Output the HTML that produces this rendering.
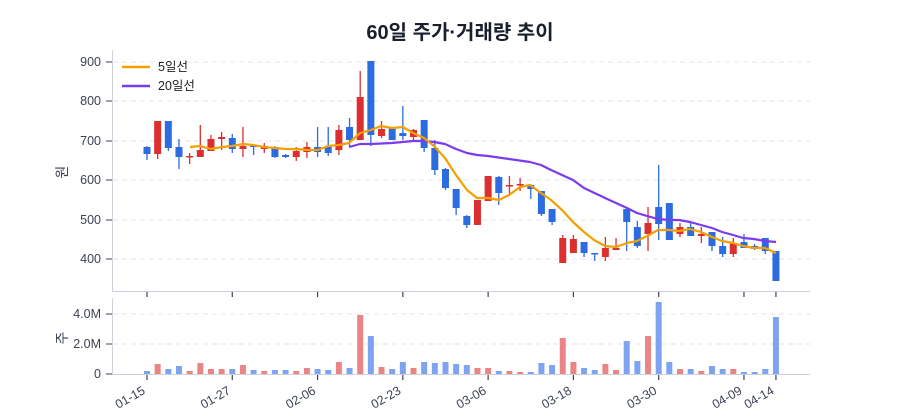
<!DOCTYPE html>
<html><head><meta charset="utf-8"><style>
html,body{margin:0;padding:0;background:#fff;}
svg{display:block;font-family:"Liberation Sans","Noto Sans CJK KR",sans-serif;}
</style></head><body>
<svg id="c" width="900" height="420" viewBox="0 0 900 420" xmlns="http://www.w3.org/2000/svg">
<text x="460" y="39" text-anchor="middle" font-size="20" font-weight="bold" fill="#1a1f2c" font-family="'Liberation Sans','Noto Sans CJK KR',sans-serif">60일 주가·거래량 추이</text>
<g stroke="#e3e6ea" stroke-dasharray="5,4" stroke-width="1">
<line x1="113" y1="62" x2="810" y2="62"/><line x1="113" y1="101" x2="810" y2="101"/>
<line x1="113" y1="141" x2="810" y2="141"/><line x1="113" y1="180" x2="810" y2="180"/>
<line x1="113" y1="220" x2="810" y2="220"/><line x1="113" y1="259" x2="810" y2="259"/>
<line x1="113" y1="314" x2="810" y2="314"/><line x1="113" y1="344" x2="810" y2="344"/>
</g>
<g stroke="#ccd1da" stroke-width="1">
<line x1="112.5" y1="50" x2="112.5" y2="291"/><line x1="112" y1="291.5" x2="810" y2="291.5"/>
<line x1="112.5" y1="298" x2="112.5" y2="375"/><line x1="112" y1="374.5" x2="810" y2="374.5"/>
</g>
<g font-size="12.5" fill="#3b4252" text-anchor="end">
<text x="101" y="66">900</text><text x="101" y="105">800</text><text x="101" y="145">700</text>
<text x="101" y="184">600</text><text x="101" y="224">500</text><text x="101" y="263">400</text>
<text x="101" y="318">4.0M</text><text x="101" y="348">2.0M</text><text x="101" y="378">0</text>
</g>
<g stroke="#3b4252" stroke-width="1">
<line x1="106" y1="62" x2="112" y2="62"/><line x1="106" y1="101" x2="112" y2="101"/><line x1="106" y1="141" x2="112" y2="141"/>
<line x1="106" y1="180" x2="112" y2="180"/><line x1="106" y1="220" x2="112" y2="220"/><line x1="106" y1="259" x2="112" y2="259"/>
<line x1="106" y1="314" x2="112" y2="314"/><line x1="106" y1="344" x2="112" y2="344"/><line x1="106" y1="374" x2="112" y2="374"/>
</g>
<text transform="translate(67,172) rotate(-90)" font-size="14" fill="#3b4252" text-anchor="middle">원</text>
<text transform="translate(67,338) rotate(-90)" font-size="14" fill="#3b4252" text-anchor="middle">주</text>
<g id="ticks" stroke="#3b4252" stroke-width="1.2"></g>
<g id="xl" font-size="12.5" fill="#3b4252"></g>
<g id="vol"></g>
<g id="cand"></g>
<polyline fill="none" stroke="#7c3aed" stroke-width="2.2" stroke-linejoin="round" points="349,147 360,144 371,144 392,143 413,141 424,141 434,142 445,144 456,149 467,153 477,155 488,156 509,159 530,162 541,165 551,170 562,175 573,180 584,188 605,198 627,208 637,213 647,216 658,219 669,220 679,220 690,222 701,225 712,228 722,232 733,235 743,238 754,239 765,241 776,242"/>
<polyline fill="none" stroke="#f59f00" stroke-width="2.2" stroke-linejoin="round" points="190,147 200,146 211,149 222,147 232,146 243,144 253,145 264,147 275,148 286,149 297,149 307,150 318,150 328,146 339,145 349,143 360,133 371,130 381,126 392,128 403,127 413,133 424,138 434,146 445,158 456,175 467,190 477,198 488,198 499,200 509,195 520,187 530,185 541,193 551,200 562,210 573,222 584,232 594,240 605,246 616,247 627,243 637,241 647,236 658,230 669,230 679,231 690,229 701,232 712,237 722,241 733,243 743,246 754,248 765,248 776,253"/>
<line x1="122" y1="67" x2="150" y2="67" stroke="#f59f00" stroke-width="2.5"/>
<text x="158" y="71" font-size="12.5" fill="#222">5일선</text>
<line x1="122" y1="86" x2="150" y2="86" stroke="#7c3aed" stroke-width="2.5"/>
<text x="158" y="90" font-size="12.5" fill="#222">20일선</text>
</svg>
<script>
var C=[[1,147,154,146,160],[0,121,154,121,159],[1,121,148,121,151],[1,147,157,139,169],[0,156,157,153,164],[0,150,157,125,157],[0,139,151,135,151],[0,137,139,132,150],[1,138,149,134,153],[0,146,149,127,157],[1,145,147,145,155],[0,146,149,143,153],[1,147,157,146,158],[1,155,157,154,158],[0,151,157,147,161],[0,147,152,142,158],[1,147,152,127,157],[1,147,153,127,156],[0,130,150,125,155],[1,127,140,118,146],[0,97,140,71,140],[1,61,135,61,146],[0,129,136,121,138],[1,127,140,127,140],[1,133,136,106,140],[0,130,137,129,140],[1,120,148,120,152],[1,148,170,140,175],[1,169,188,168,190],[1,189,208,189,215],[1,216,225,215,228],[0,200,225,200,225],[0,176,201,176,201],[1,177,193,176,205],[0,185,186,176,196],[0,184,185,178,191],[1,185,189,184,199],[1,191,214,191,216],[1,209,222,209,225],[0,238,263,235,263],[0,239,253,235,253],[1,242,253,242,257],[1,253,254,253,261],[0,248,257,237,261],[0,248,250,238,250],[1,209,222,207,251],[1,227,246,221,248],[0,223,234,207,251],[1,207,224,165,240],[1,203,240,203,240],[0,227,234,223,237],[1,227,236,222,236],[0,234,236,227,243],[1,232,246,232,251],[1,246,254,237,257],[0,243,254,238,257],[1,242,248,234,248],[1,246,249,244,250],[1,238,251,238,254],[1,251,281,251,281]];
var V=[3,10,5,8,3,11,5,5,5,9,4,3,4,4,3,6,5,4,12,6,59,38,7,5,12,6,12,11,12,10,9,6,6,3,3,2,2,11,9,36,12,6,4,10,4,33,13,38,72,12,5,5,3,8,5,5,2,2,5,57];
var ns="http://www.w3.org/2000/svg";
function el(p,t,a){var e=document.createElementNS(ns,t);for(var k in a)e.setAttribute(k,a[k]);p.appendChild(e);return e;}
var cg=document.getElementById('cand'),vg=document.getElementById('vol');
for(var i=0;i<60;i++){var x=147+10.66*i,c=C[i],col=c[0]?'#2d6be0':'#dc2f2f';
el(cg,'line',{x1:x,x2:x,y1:c[3],y2:c[4],stroke:col,'stroke-width':1.3});
var h=Math.max(c[2]-c[1],1.5);el(cg,'rect',{x:x-3.5,y:c[1],width:7,height:h,fill:col});
var vc=c[0]?'#7ea3f0':'#ea8585';el(vg,'rect',{x:x-3,y:374-V[i],width:6,height:V[i],fill:vc});}
var L=['01-15','01-27','02-06','02-23','03-06','03-18','03-30','04-09','04-14'],I=[0,8,16,24,32,40,48,56,59];
var tg=document.getElementById('ticks'),xg=document.getElementById('xl');
for(var j=0;j<9;j++){var x=147+10.66*I[j];
el(tg,'line',{x1:x,x2:x,y1:292,y2:297});el(tg,'line',{x1:x,x2:x,y1:375,y2:380});
var t=el(xg,'text',{transform:'translate('+(x-1)+',393) rotate(-30)','text-anchor':'end'});t.textContent=L[j];}
</script>
</body></html>
